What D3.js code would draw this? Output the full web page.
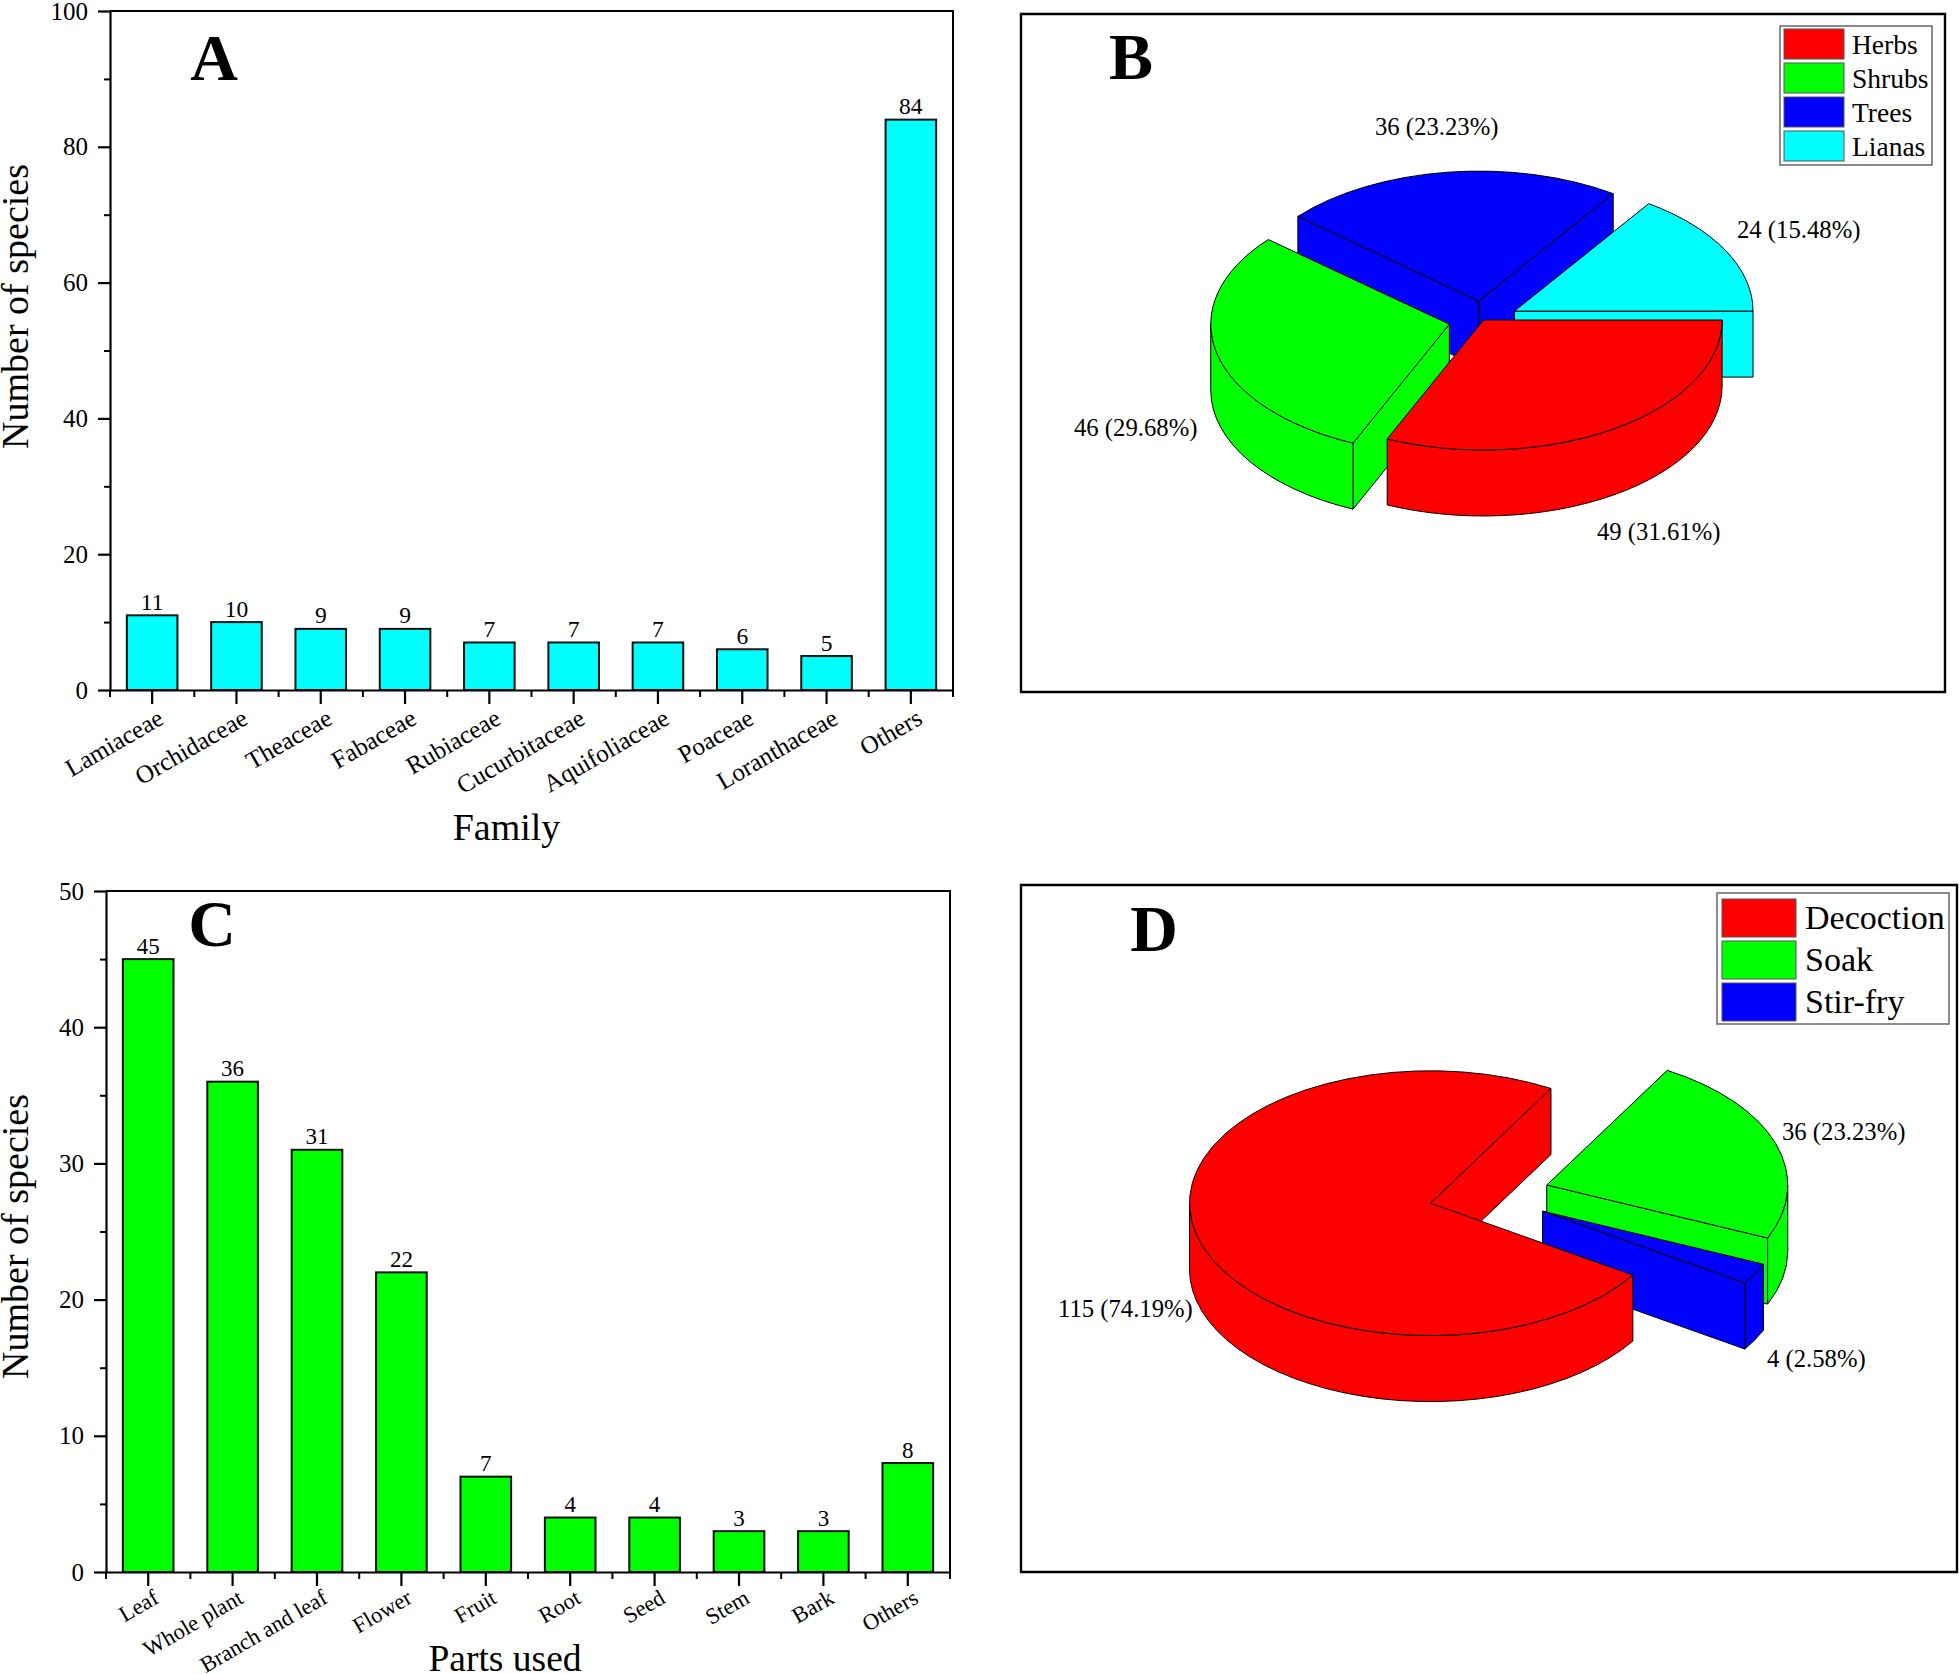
<!DOCTYPE html>
<html><head><meta charset="utf-8">
<script src="https://cdn.jsdelivr.net/npm/d3@7/dist/d3.min.js"></script>
<style>
html,body{margin:0;padding:0;background:#fff}
svg{display:block}
text{font-family:"Liberation Serif","Times New Roman",serif;fill:#000}
</style></head><body>
<svg id="c" width="1959" height="1674"></svg>
<script>
// ---- data ----
const familyNames = ["Lamiaceae","Orchidaceae","Theaceae","Fabaceae","Rubiaceae","Cucurbitaceae","Aquifoliaceae","Poaceae","Loranthaceae","Others"];
const familyCounts = [11,10,9,9,7,7,7,6,5,84];
const partNames = ["Leaf","Whole plant","Branch and leaf","Flower","Fruit","Root","Seed","Stem","Bark","Others"];
const partCounts = [45,36,31,22,7,4,4,3,3,8];
const lifeForms = ["Herbs","Shrubs","Trees","Lianas"];
const lifeCounts = [49,46,36,24];
const methods = ["Decoction","Soak","Stir-fry"];
const methodCounts = [115,36,4];
const pieColors = ["#ff0000","#00ff00","#0000ff","#00ffff"];

const svg = d3.select("#c");

function barPanel(o){
  const g = svg.append("g");
  const x = d3.scaleBand().domain(o.names).range([o.left,o.right]).paddingInner(0.4).paddingOuter(0.2);
  const y = d3.scaleLinear().domain([0,o.max]).range([o.bottom,o.top]);
  // bars
  g.selectAll("rect.b").data(o.values).join("rect").attr("class","b")
    .attr("x",(d,i)=>x(o.names[i])).attr("width",x.bandwidth())
    .attr("y",d=>y(d)).attr("height",d=>y(0)-y(d))
    .attr("fill",o.color).attr("stroke","#111").attr("stroke-width",2);
  // frame
  g.append("path").attr("d",`M${o.left},${o.top}H${o.right}V${o.bottom}`).attr("fill","none").attr("stroke","#000").attr("stroke-width",2);
  // y axis
  const ya = d3.axisLeft(y).tickValues(d3.range(0,o.max+1,o.major)).tickSize(12).tickPadding(10).tickSizeOuter(0);
  const yg = g.append("g").attr("transform",`translate(${o.left},0)`).call(ya);
  yg.selectAll("text").style("font-size",o.tickFont+"px").attr("font-family",null);
  yg.selectAll("line,path").attr("stroke","#000").attr("stroke-width",2.2);
  const yMinor = g.append("g").attr("transform",`translate(${o.left},0)`)
    .call(d3.axisLeft(y).tickValues(d3.range(o.major/2,o.max,o.major)).tickSize(6).tickFormat("").tickSizeOuter(0));
  yMinor.selectAll("line").attr("stroke","#000").attr("stroke-width",2);
  yMinor.select("path").remove();
  // x axis
  const xa = d3.axisBottom(x).tickSize(14).tickSizeOuter(0).tickFormat("");
  const xg = g.append("g").attr("transform",`translate(0,${o.bottom})`).call(xa);
  xg.selectAll("line").attr("stroke","#000").attr("stroke-width",2.2);
  xg.select("path").attr("stroke","#000").attr("stroke-width",2.2);
  g.selectAll("line.m").data(d3.range(0,o.names.length+1)).join("line").attr("class","m")
    .attr("x1",i=>o.left+i*x.step()).attr("x2",i=>o.left+i*x.step())
    .attr("y1",o.bottom).attr("y2",o.bottom+7).attr("stroke","#000").attr("stroke-width",2);
  // category labels
  g.selectAll("text.cat").data(o.names).join("text").attr("class","cat")
    .attr("text-anchor","end").style("font-size",o.catFont+"px")
    .attr("transform",d=>`translate(${x(d)+x.bandwidth()/2+o.catDx},${o.bottom+o.catDy}) rotate(-30)`)
    .text(d=>d);
  // value labels
  g.selectAll("text.val").data(o.values).join("text").attr("class","val")
    .attr("text-anchor","middle").style("font-size",o.valFont+"px")
    .attr("x",(d,i)=>x(o.names[i])+x.bandwidth()/2).attr("y",d=>y(d)-5.5).text(d=>d);
  // titles
  g.append("text").attr("text-anchor","middle").style("font-size",o.xTitleFont+"px")
    .attr("x",(o.left+o.right)/2+o.xTitleDx).attr("y",o.xTitleY).text(o.xTitle);
  g.append("text").attr("text-anchor","middle").style("font-size","38px")
    .attr("transform",`translate(${o.yTitleX},${(o.top+o.bottom)/2+o.yTitleDy}) rotate(-90)`).text("Number of species");
}

barPanel({names:familyNames,values:familyCounts,color:"#00ffff",left:110,right:953,top:11,bottom:690,max:100,major:20,
  tickFont:25,catFont:25,valFont:23.5,catDx:13,catDy:33,xTitle:"Family",xTitleFont:38,xTitleDx:-25,xTitleY:840,yTitleX:28,yTitleDy:-44});
barPanel({names:partNames,values:partCounts,color:"#00ff00",left:106,right:950,top:891,bottom:1572,max:50,major:10,
  tickFont:25,catFont:22.5,valFont:23,catDx:12,catDy:30,xTitle:"Parts used",xTitleFont:37.5,xTitleDx:-23,xTitleY:1671,yTitleX:28,yTitleDy:5});

function piePanel(o){
  const g = svg.append("g");
  g.append("path").attr("d",o.frame).attr("fill","none").attr("stroke","#000").attr("stroke-width",2.4);
  const total = d3.sum(o.values);
  const arcs = d3.pie().sort(null).startAngle(o.start).endAngle(o.start+2*Math.PI)(o.values);
  const slices = arcs.map((a,i)=>{
    const t0=a.startAngle-Math.PI/2, t1=a.endAngle-Math.PI/2, mid=(t0+t1)/2;
    return {i,t0,t1,mid,cx:o.cx+o.explode[i]*Math.cos(mid),cy:o.cy+o.explode[i]*o.ry/o.rx*Math.sin(mid)};
  });
  const order = slices.slice(1).sort((a,b)=>a.cy-b.cy).concat(slices[0]);
  const P=(s,t,z=0)=>[s.cx+o.rx*Math.cos(t),s.cy+o.ry*Math.sin(t)+z];
  order.forEach(s=>{
    const col=o.colors[s.i], sg=g.append("g").attr("fill",col).attr("stroke","#000").attr("stroke-width",1).attr("stroke-linejoin","round");
    const wall=(t)=>{const p=P(s,t),q=P(s,t,o.depth);
      sg.append("path").attr("d",`M${s.cx},${s.cy}L${p}L${q}L${s.cx},${s.cy+o.depth}Z`);};
    if(Math.cos(s.t0)<0) wall(s.t0);
    if(Math.cos(s.t1)>0) wall(s.t1);
    [0,2*Math.PI].forEach(k=>{
      const a=Math.max(s.t0,k),b=Math.min(s.t1,k+Math.PI);
      if(b>a){
        sg.append("path").attr("d",`M${P(s,a)}A${o.rx},${o.ry} 0 0 1 ${P(s,b)}L${P(s,b,o.depth)}A${o.rx},${o.ry} 0 0 0 ${P(s,a,o.depth)}Z`);
      }
    });
    const large=(s.t1-s.t0)>Math.PI?1:0;
    sg.append("path").attr("d",`M${s.cx},${s.cy}L${P(s,s.t0)}A${o.rx},${o.ry} 0 ${large} 1 ${P(s,s.t1)}Z`);
  });
  // value labels
  g.selectAll("text.pl").data(o.values).join("text").attr("class","pl").style("font-size","24.7px")
    .attr("x",(d,i)=>o.labelPos[i][0]).attr("y",(d,i)=>o.labelPos[i][1])
    .text(d=>`${d} (${(d/total*100).toFixed(2)}%)`);
  // legend
  const L=o.legend;
  g.append("rect").attr("x",L.x).attr("y",L.y).attr("width",L.w).attr("height",L.h).attr("fill","#fff").attr("stroke","#666").attr("stroke-width",1.5);
  o.names.forEach((n,i)=>{
    g.append("rect").attr("x",L.x+L.sx).attr("y",L.y+L.sy+i*L.step).attr("width",L.sw).attr("height",L.sh)
      .attr("fill",o.colors[i]).attr("stroke","#555").attr("stroke-width",1);
    g.append("text").attr("x",L.x+L.tx).attr("y",L.y+L.ty+i*L.step).style("font-size",L.font+"px").text(n);
  });
}

piePanel({names:lifeForms,values:lifeCounts,colors:pieColors,start:Math.PI/2,explode:[0,35,35,35],
  cx:1483.5,cy:320,rx:238.6,ry:130,depth:66,frame:"M1021,14H1945V692H1021Z",
  labelPos:[[1597,540],[1074,436],[1375,135],[1737,238]],
  legend:{x:1780,y:26,w:152,h:139,sx:4,sy:3,sw:60,sh:30,step:34,tx:72,ty:28,font:27.5}});
piePanel({names:methods,values:methodCounts,colors:pieColors,start:Math.PI/2+32.9*Math.PI/180,explode:[60.5,60.5,60.5],
  cx:1489.3,cy:1195.4,rx:241,ry:132.4,depth:66,frame:"M1021,885H1957V1572H1021Z",
  labelPos:[[1058,1317],[1782,1140],[1767,1367]],
  legend:{x:1717,y:893,w:232,h:131,sx:5,sy:6,sw:74,sh:38,step:42,tx:88,ty:35.5,font:34}});

// panel letters
const letters=["A","B","C","D"], letterX=[214,1131,212,1154], letterY=[80,79,946,951];
svg.selectAll("text.let").data(letters).join("text").attr("class","let").attr("text-anchor","middle")
  .style("font-size","66px").style("font-weight","bold")
  .attr("x",(d,i)=>letterX[i]).attr("y",(d,i)=>letterY[i]).text(d=>d);
</script>
</body></html>
